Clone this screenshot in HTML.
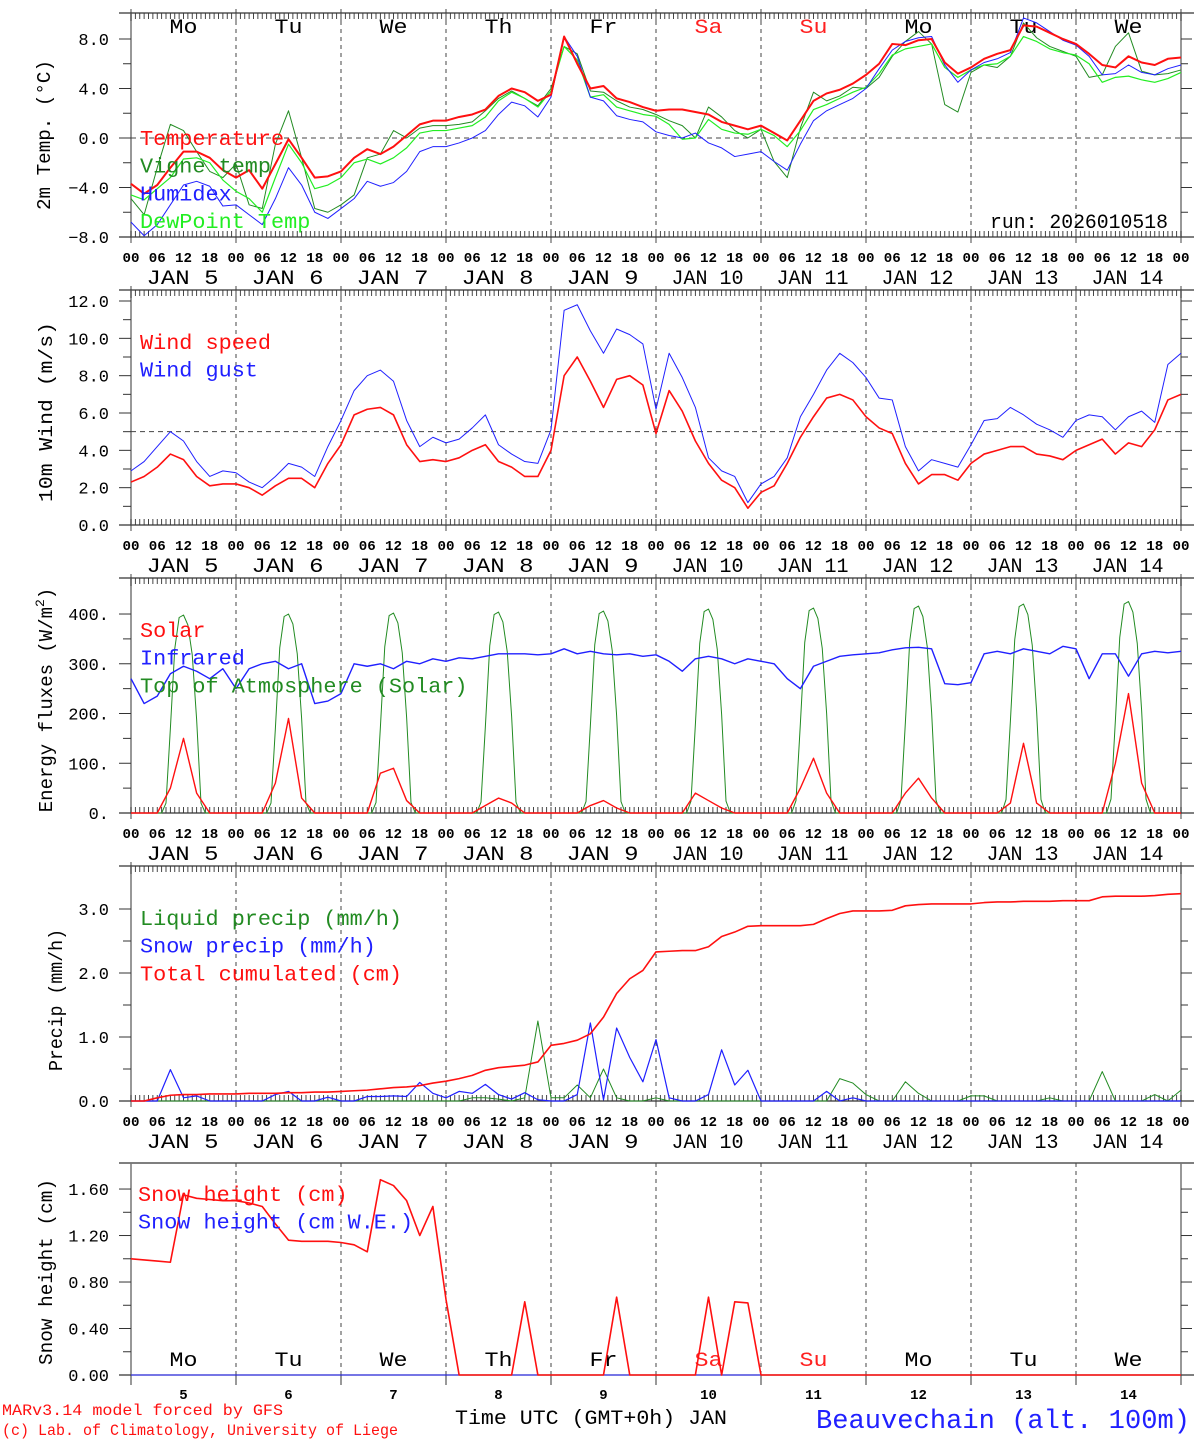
<!DOCTYPE html>
<html><head><meta charset="utf-8"><style>
html,body{margin:0;padding:0;background:#fff;}
svg{display:block;font-family:"Liberation Mono","Liberation Serif",monospace;}
</style></head><body>
<svg id="chart" xmlns="http://www.w3.org/2000/svg" width="1194" height="1440" viewBox="0 0 1194 1440">
<rect x="0" y="0" width="1194" height="1440" fill="#fff"/>
<g id="g"></g>
</svg>
<script>
// ---- data (3-hourly, 81 points from Jan 5 00 UTC to Jan 15 00 UTC) ----
const dayNames = ["Mo","Tu","We","Th","Fr","Sa","Su","Mo","Tu","We"];
const dayNums = [5,6,7,8,9,10,11,12,13,14];
const hourTicks = ["00","06","12","18"];
const tempTicks = [8,4,0,-4,-8];
const windTicks = [0,2,4,6,8,10,12];
const fluxTicks = [0,100,200,300,400];
const precipTicks = [0,1,2,3];
const snowTicks = [0,0.4,0.8,1.2,1.6];
const temperature = [-3.7,-4.5,-3.8,-2.4,-1.1,-1.1,-1.6,-2.6,-3.2,-2.6,-4.1,-2.1,-0.1,-1.6,-3.2,-3.1,-2.7,-1.6,-0.9,-1.3,-0.7,0.2,1.1,1.4,1.4,1.7,1.9,2.3,3.4,4.0,3.7,3.0,3.5,8.2,6.0,4.0,4.2,3.2,2.9,2.5,2.2,2.3,2.3,2.1,1.9,1.3,1.0,0.7,1.0,0.4,-0.2,1.4,3.0,3.6,3.9,4.4,5.1,6.0,7.6,7.5,7.9,8.0,6.1,5.2,5.7,6.4,6.8,7.1,9.1,9.0,8.5,8.0,7.6,6.8,5.9,5.7,6.6,6.1,5.9,6.4,6.5];
const vigneTemp = [-4.9,-6.2,-2.4,1.1,0.6,-1.1,-2.7,-3.2,-2.1,-5.4,-5.7,-0.5,2.2,-1.6,-5.7,-6.0,-5.4,-4.6,-1.6,-1.3,0.6,0.0,0.8,1.0,1.0,1.1,1.3,2.2,3.2,3.8,3.2,2.6,4.0,7.4,6.8,3.8,3.7,3.0,2.5,2.3,1.9,1.4,1.0,0.0,2.5,1.7,0.6,0.0,0.7,-1.9,-3.2,0.8,3.7,3.0,3.4,4.1,4.0,4.9,6.6,7.8,8.6,7.6,2.7,2.1,5.3,5.9,5.7,6.6,9.3,8.1,7.4,7.0,6.6,4.9,5.1,7.4,8.5,5.4,5.1,5.2,5.5];
const humidex = [-6.8,-7.9,-7.0,-5.4,-3.8,-3.5,-3.9,-5.5,-5.4,-6.2,-7.0,-4.9,-2.4,-3.8,-6.0,-6.5,-5.7,-4.9,-3.5,-3.9,-3.6,-2.7,-1.1,-0.7,-0.7,-0.4,0.0,0.6,1.9,2.9,2.6,1.7,3.3,8.2,6.6,3.3,3.0,1.8,1.5,1.3,0.5,0.2,0.0,0.4,-0.4,-0.8,-1.5,-1.3,-1.1,-1.9,-2.6,-0.5,1.4,2.2,2.7,3.2,4.0,5.6,7.1,7.8,8.1,8.2,5.9,4.5,5.5,6.1,6.4,6.9,9.7,9.3,8.6,7.9,7.5,6.6,5.1,5.2,5.9,5.3,5.1,5.6,5.9];
const dewPoint = [-4.6,-5.0,-4.1,-3.2,-1.7,-1.6,-2.0,-3.4,-4.3,-4.9,-6.0,-3.2,-0.5,-2.0,-4.1,-3.8,-3.2,-2.0,-1.7,-2.1,-1.6,-0.8,0.4,0.6,0.6,0.8,1.0,1.7,3.0,3.7,3.2,2.5,3.8,7.4,6.3,3.3,3.5,2.5,2.2,1.9,1.75,1.1,-0.1,0.0,1.5,0.7,0.4,0.3,0.7,0.2,-0.7,0.6,2.3,2.7,3.2,3.7,4.1,5.2,6.7,7.2,7.4,7.6,5.7,4.9,5.5,5.9,6.0,6.6,8.2,7.8,7.2,6.9,6.7,6.0,4.5,4.9,5.0,4.7,4.5,4.8,5.3];
const windSpeed = [2.3,2.6,3.1,3.8,3.5,2.6,2.1,2.2,2.2,2.0,1.6,2.1,2.5,2.5,2.0,3.3,4.3,5.9,6.2,6.3,5.9,4.3,3.4,3.5,3.4,3.6,4.0,4.3,3.4,3.1,2.6,2.6,4.0,8.0,9.0,7.7,6.3,7.8,8.0,7.5,4.9,7.2,6.1,4.5,3.3,2.4,2.0,0.9,1.75,2.1,3.3,4.7,5.8,6.8,7.0,6.7,5.8,5.2,4.9,3.3,2.2,2.7,2.7,2.4,3.3,3.8,4.0,4.2,4.2,3.8,3.7,3.5,4.0,4.3,4.6,3.8,4.4,4.2,5.1,6.7,7.0];
const windGust = [2.9,3.4,4.2,5.0,4.5,3.4,2.6,2.9,2.8,2.3,2.0,2.6,3.3,3.1,2.6,4.2,5.6,7.2,8.0,8.3,7.7,5.6,4.2,4.7,4.4,4.6,5.2,5.9,4.3,3.8,3.4,3.3,5.1,11.5,11.8,10.4,9.2,10.5,10.2,9.7,6.2,9.2,7.9,6.3,3.6,2.9,2.6,1.2,2.2,2.6,3.6,5.8,7.0,8.3,9.2,8.7,7.9,6.8,6.7,4.2,2.9,3.5,3.3,3.1,4.3,5.6,5.7,6.3,5.9,5.4,5.1,4.7,5.6,5.9,5.8,5.1,5.8,6.1,5.5,8.6,9.2];
const solar = [0,0,0,50,150,40,0,0, 0,0,0,60,190,30,0,0, 0,0,0,80,90,25,0,0, 0,0,0,15,30,20,0,0, 0,0,0,15,25,10,0,0, 0,0,0,40,25,10,0,0, 0,0,0,50,110,40,0,0, 0,0,0,40,70,30,0,0, 0,0,0,20,140,20,0,0, 0,0,0,100,240,60,0,0, 0];
const infrared = [270,220,235,280,295,285,270,290,250,290,300,305,290,300,220,225,240,300,295,300,290,305,300,310,305,312,310,315,320,320,320,318,320,330,320,325,320,318,320,315,318,305,285,310,315,310,300,310,305,300,270,250,295,305,315,318,320,322,328,332,333,330,260,258,262,320,325,320,330,325,320,335,330,270,320,320,275,320,325,322,325];
// hourly top-of-atmosphere solar (241 points)
const toaSolarHourly = [
0,0,0,0,0,0,0,0,20,170,330,393,398,378,318,188,20,0,0,0,0,0,0,0,
0,0,0,0,0,0,0,0,20,170,332,395,400,380,320,190,20,0,0,0,0,0,0,0,
0,0,0,0,0,0,0,0,21,172,334,397,402,382,322,192,21,0,0,0,0,0,0,0,
0,0,0,0,0,0,0,0,22,174,336,399,404,384,324,194,22,0,0,0,0,0,0,0,
0,0,0,0,0,0,0,0,23,176,338,401,406,386,326,196,23,0,0,0,0,0,0,0,
0,0,0,0,0,0,0,0,24,178,341,405,410,389,329,198,24,0,0,0,0,0,0,0,
0,0,0,0,0,0,0,0,25,180,343,407,412,391,331,200,25,0,0,0,0,0,0,0,
0,0,0,0,0,0,0,0,26,182,346,411,416,395,334,202,26,0,0,0,0,0,0,0,
0,0,0,0,0,0,0,0,27,184,349,415,420,399,337,204,27,0,0,0,0,0,0,0,
0,0,0,0,0,0,0,0,28,186,353,420,425,404,341,206,28,0,0,0,0,0,0,0,
0];
const liquidPrecip = [0,0,0,0,0,0,0,0,0,0,0,0,0,0,0,0,0,0,0,0,0,0,0,0,0,0,0.05,0.05,0.03,0,0.05,1.25,0.05,0.05,0.25,0.05,0.5,0.05,0,0,0.05,0,0,0,0,0,0,0,0,0,0,0,0,0,0.35,0.28,0.1,0,0,0.3,0.12,0,0,0,0.08,0.08,0,0,0,0,0.05,0,0,0,0.46,0,0,0,0.1,0,0.17];
const snowPrecip = [0,0,0,0.49,0.05,0.08,0,0,0,0,0,0.1,0.15,0,0,0.06,0,0,0.07,0.07,0.08,0.07,0.29,0.12,0.05,0.15,0.12,0.26,0.1,0.03,0.13,0.02,0,0,0.1,1.22,0.02,1.14,0.68,0.3,0.96,0.05,0,0,0.1,0.8,0.25,0.48,0,0,0,0,0,0.15,0,0.05,0,0,0,0,0,0,0,0,0,0,0,0,0,0,0,0,0,0,0,0,0,0,0,0,0];
const totalCum = [0,0,0.05,0.09,0.10,0.10,0.11,0.11,0.11,0.12,0.12,0.12,0.13,0.13,0.14,0.14,0.15,0.16,0.17,0.19,0.21,0.22,0.24,0.28,0.31,0.35,0.40,0.48,0.52,0.54,0.56,0.61,0.87,0.90,0.95,1.05,1.31,1.68,1.91,2.04,2.33,2.34,2.35,2.35,2.41,2.57,2.64,2.73,2.74,2.74,2.74,2.74,2.76,2.85,2.93,2.97,2.97,2.97,2.98,3.05,3.07,3.08,3.08,3.08,3.08,3.10,3.11,3.11,3.12,3.12,3.12,3.13,3.13,3.13,3.19,3.20,3.20,3.20,3.21,3.23,3.24];
const snowHeight = [1.00,0.99,0.98,0.97,1.55,1.52,1.51,1.50,1.50,1.48,1.45,1.30,1.16,1.15,1.15,1.15,1.14,1.12,1.06,1.68,1.63,1.50,1.20,1.45,0.65,0,0,0,0,0,0.63,0,0,0,0,0,0,0.67,0,0,0,0,0,0,0.67,0,0.63,0.62,0,0,0,0,0,0,0,0,0,0,0,0,0,0,0,0,0,0,0,0,0,0,0,0,0,0,0,0,0,0,0,0,0];
const snowWE = [0,0,0,0,0,0,0,0,0,0,0,0,0,0,0,0,0,0,0,0,0,0,0,0,0,0,0,0,0,0,0,0,0,0,0,0,0,0,0,0,0,0,0,0,0,0,0,0,0,0,0,0,0,0,0,0,0,0,0,0,0,0,0,0,0,0,0,0,0,0,0,0,0,0,0,0,0,0,0,0,0];

// ---- layout ----
const NS = "http://www.w3.org/2000/svg";
const G = document.getElementById('g');
const X0 = 131, X1 = 1181, HOURS = 240;
function xScale(h){ return X0 + (X1 - X0) * h / HOURS; }
function mk(tag, attrs, parent){
  const e = document.createElementNS(NS, tag);
  for (const k in attrs) e.setAttribute(k, attrs[k]);
  (parent || G).appendChild(e);
  return e;
}
function txt(x, y, s, size, fill, anchor, parent, len){
  const a = {x:x, y:y, 'font-size':size, fill:fill||'#000', 'text-anchor':anchor||'start'};
  if (len) { a.textLength = len; a.lengthAdjust = 'spacingAndGlyphs'; }
  const t = mk('text', a, parent);
  t.textContent = s;
  return t;
}
function makeY(top, bottom, vmin, vmax){
  return v => bottom - (v - vmin) / (vmax - vmin) * (bottom - top);
}
function frame(name, top, bottom, yS, ticks, fmt, hourlyTicks){
  const g = mk('g', {});
  
  
  mk('line', {x1:119, y1:top, x2:1194, y2:top, stroke:'#333', 'stroke-width':1.3}, g);
  mk('line', {x1:119, y1:bottom, x2:1194, y2:bottom, stroke:'#333', 'stroke-width':1.3}, g);
  mk('line', {x1:X0, y1:top, x2:X0, y2:bottom, stroke:'#777', 'stroke-width':1.5}, g);
  mk('line', {x1:X1, y1:top, x2:X1, y2:bottom, stroke:'#777', 'stroke-width':1.5}, g);
  for (const v of ticks){
    const y = yS(v);
    mk('line', {x1:119, y1:y, x2:X0, y2:y, stroke:'#333'}, g);
    mk('line', {x1:X1, y1:y, x2:1192, y2:y, stroke:'#333'}, g);
    const lab = txt(109, y + 6, fmt(v), 17, '#000', 'end', g);
    
    
  }
  for (let i = 0; i < ticks.length - 1; i++){
    const y = yS((ticks[i] + ticks[i+1]) / 2);
    mk('line', {x1:123, y1:y, x2:X0, y2:y, stroke:'#333'}, g);
    mk('line', {x1:X1, y1:y, x2:1188, y2:y, stroke:'#333'}, g);
  }
  if (hourlyTicks){
    let d = '';
    for (let h = 0; h <= HOURS; h++){
      const x = xScale(h);
      const L = (h % 24 === 0) ? 12 : 6;
      d += `M${x} ${top - (h%24===0?4:0)}v${L}M${x} ${bottom + (h%24===0?6:0)}v${-L}`;
    }
    mk('path', {d:d, stroke:'#333', 'stroke-width':0.9, fill:'none'}, g);
  }
  for (let day = 1; day < 10; day++){
    const x = xScale(day * 24);
    mk('line', {x1:x, y1:top, x2:x, y2:bottom, stroke:'#444', 'stroke-dasharray':'4,4', 'stroke-width':1}, g);
  }
}
function series(name, arr, yS, color, width, step){
  const st = step || 3;
  let d = '';
  arr.forEach((v, i) => { d += (i ? 'L' : 'M') + xScale(i * st).toFixed(2) + ' ' + yS(v).toFixed(2); });
  const p = mk('path', {d:d, stroke:color, 'stroke-width':width||1, fill:'none', 'stroke-linejoin':'round'});
  
  
}
function timeLabels(y){
  for (let day = 0; day <= 10; day++){
    for (let k = 0; k < 4; k++){
      if (day === 10 && k > 0) break;
      const t = txt(xScale(day*24 + k*6), y, hourTicks[k], 14, '#000', 'middle', null, 17);
      t.setAttribute('font-weight', 'bold');
      
      
    }
  }
  dayNums.forEach((n, i) => {
    const t = txt(xScale(i*24 + 12) - 1, y + 22, 'JAN ' + (n < 10 ? ' ' : '') + n, 20, '#000', 'middle', null, 72);
    t.setAttribute('xml:space', 'preserve');
    
    
  });
}
function dayLabels(y){
  dayNames.forEach((n, i) => {
    const red = (i === 5 || i === 6);
    const t = txt(xScale(i*24 + 12), y, n, 20, red ? '#ff2020' : '#000', 'middle', null, 28);
    
    
  });
}
function legend(x, y0, items){
  items.forEach((it, i) => {
    const t = txt(x, y0 + i * 27.7, it[0], 21, it[1], 'start', null, it[0].length * 13.1);
    
    
  });
}
function ytitle(x, y, s, len){
  const t = txt(x, y, s, 19, '#000', 'middle', null, len);
  t.setAttribute('transform', `rotate(-90 ${x} ${y})`);
  
  
  return t;
}

// Panel 1: temperature
const y1 = makeY(13, 237, -8, 10.1);
frame('temperature', 13, 237, y1, tempTicks, v => (v < 0 ? '\u2212' : '') + Math.abs(v).toFixed(1), true);
mk('line', {x1:X0, y1:y1(0), x2:X1, y2:y1(0), stroke:'#444', 'stroke-dasharray':'5,4'});
dayLabels(33);
series('vigne-temp-line', vigneTemp, y1, '#228b22', 1);
series('dewpoint-line', dewPoint, y1, '#22ee22', 1.2);
series('humidex-line', humidex, y1, '#2020ff', 1);
series('temperature-line', temperature, y1, '#ff1010', 2);
legend(140, 145, [['Temperature','#ff1010'],['Vigne temp','#228b22'],['Humidex','#2020ff'],['DewPoint Temp','#22ee22']]);
{ const t = txt(1168, 228, 'run: 2026010518', 20, '#000', 'end', null, 178);   }
ytitle(50, 135, '2m Temp. (\u00b0C)', 150);
timeLabels(262);

// Panel 2: wind
const y2 = makeY(290, 525, 0, 12.59);
frame('wind', 290, 525, y2, windTicks, v => v.toFixed(1), true);
mk('line', {x1:X0, y1:y2(5), x2:X1, y2:y2(5), stroke:'#444', 'stroke-dasharray':'5,4'});
series('wind-gust-line', windGust, y2, '#2020ff', 1);
series('wind-speed-line', windSpeed, y2, '#ff1010', 1.6);
legend(140, 349, [['Wind speed','#ff1010'],['Wind gust','#2020ff']]);
ytitle(52, 412, '10m Wind (m/s)', 180);
timeLabels(550);

// Panel 3: energy fluxes
const y3 = makeY(578, 813, 0, 472.4);
frame('energy', 578, 813, y3, fluxTicks, v => v.toFixed(0) + '.', true);
series('toa-solar-line', toaSolarHourly, y3, '#228b22', 1, 1);
series('infrared-line', infrared, y3, '#2020ff', 1.4);
series('solar-line', solar, y3, '#ff1010', 1.4);
legend(140, 637, [['Solar','#ff1010'],['Infrared','#2020ff'],['Top of Atmosphere (Solar)','#228b22']]);
{ const t = ytitle(52, 700, 'Energy fluxes (W/m'); const s = mk('tspan', {dy:-8, 'font-size':13}, t); s.textContent = '2'; const s2 = mk('tspan', {dy:8}, t); s2.textContent = ')'; }
timeLabels(838);

// Panel 4: precip
const y4 = makeY(866, 1101, 0, 3.672);
frame('precip', 866, 1101, y4, precipTicks, v => v.toFixed(1), true);
series('liquid-precip-line', liquidPrecip, y4, '#228b22', 1);
series('snow-precip-line', snowPrecip, y4, '#2020ff', 1.2);
series('total-cumulated-line', totalCum, y4, '#ff1010', 1.6);
legend(140, 925, [['Liquid precip (mm/h)','#228b22'],['Snow precip (mm/h)','#2020ff'],['Total cumulated (cm)','#ff1010']]);
ytitle(62, 1000, 'Precip (mm/h)', 142);
timeLabels(1126);

// Panel 5: snow height
const y5 = makeY(1163, 1375, 0, 1.824);
frame('snow', 1163, 1375, y5, snowTicks, v => v.toFixed(2), false);
for (let day = 0; day <= 10; day++){
  const x = xScale(day*24);
  mk('line', {x1:x, y1:1375, x2:x, y2:1385, stroke:'#333'});
}
dayLabels(1366);
series('snow-height-we-line', snowWE, y5, '#2020ff', 1);
series('snow-height-line', snowHeight, y5, '#ff1010', 1.6);
legend(138, 1201, [['Snow height (cm)','#ff1010'],['Snow height (cm W.E.)','#2020ff']]);
ytitle(52, 1272, 'Snow height (cm)', 186);
dayNums.forEach((n, i) => {
  const t = txt(xScale(i*24 + 12), 1399, String(n), 14, '#000', 'middle');
  t.setAttribute('font-weight', 'bold');
  
  
});

// footer
{ let t = txt(2, 1415, 'MARv3.14 model forced by GFS', 16, '#ff1010', 'start', null, 281);  
  t = txt(2, 1435, '(c) Lab. of Climatology, University of Liege', 16, '#ff1010', 'start', null, 396);  
  t = txt(455, 1424, 'Time UTC (GMT+0h) JAN', 20, '#000', 'start', null, 272);  
  t = txt(816, 1428, 'Beauvechain (alt. 100m)', 27, '#2020ff', 'start', null, 374);   }
</script>
</body></html>
